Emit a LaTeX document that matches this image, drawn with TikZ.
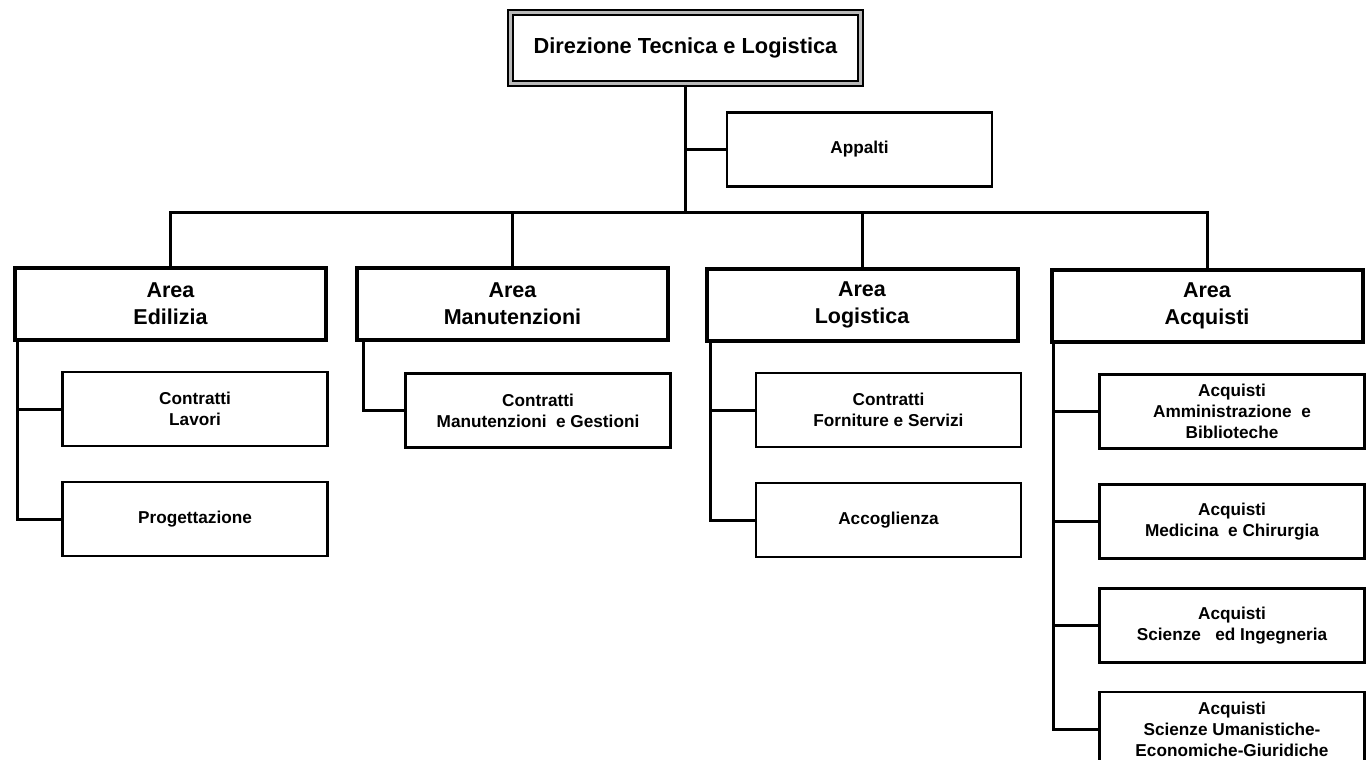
\documentclass[tikz,border=0pt]{standalone}
\usepackage{fontspec}
\setmainfont{Liberation Sans}
\begin{document}
\begin{tikzpicture}[x=1pt,y=1pt,
  topbox/.style={draw=black, line width=2.4pt, double=gray!55, double distance=2.4pt,
    minimum width=350pt, minimum height=71pt, inner sep=0pt,
    font=\fontsize{21.8}{26}\selectfont\bfseries},
  areabox/.style={draw=black, line width=4pt, minimum width=311pt, minimum height=72pt,
    inner sep=0pt, align=center, font=\fontsize{21.5}{27}\selectfont\bfseries},
  subbox/.style={draw=black, line width=2.3pt, minimum width=265pt, minimum height=74pt,
    inner sep=0pt, align=center, font=\fontsize{17.2}{21}\selectfont\bfseries},
  link/.style={draw=black, line width=3pt}]
\useasboundingbox (0,0) rectangle (1369,-760);
% top
\node[topbox] (top) at (685.5,-48) {Direzione Tecnica e Logistica};
\node[subbox] (ap) at (859.5,-149.5) {Appalti};
% areas
\node[areabox] (ed) at (170.5,-304) {Area\\Edilizia};
\node[areabox] (ma) at (512.5,-304) {Area\\Manutenzioni};
\node[areabox] (lo) at (862,-305) {Area\\Logistica};
\node[areabox] (aq) at (1207,-305.5) {Area\\Acquisti};
% sub boxes
\node[subbox] (ed1) at (195,-409) {Contratti\\Lavori};
\node[subbox] (ed2) at (195,-519) {Progettazione};
\node[subbox] (ma1) at (538,-410.5) {Contratti\\Manutenzioni\ \ e Gestioni};
\node[subbox] (lo1) at (888.5,-410) {Contratti\\Forniture e Servizi};
\node[subbox] (lo2) at (888.5,-520) {Accoglienza};
\node[subbox] (aq1) at (1232,-411.5) {Acquisti\\Amministrazione\ \ e\\Biblioteche};
\node[subbox] (aq2) at (1232,-521.5) {Acquisti\\Medicina\ \ e Chirurgia};
\node[subbox] (aq3) at (1232,-625.5) {Acquisti\\Scienze\ \ \ ed Ingegneria};
\node[subbox] (aq4) at (1232,-729) {Acquisti\\Scienze Umanistiche-\\Economiche-Giuridiche};
% bus
\coordinate (bus) at (686,-212);
\draw[link] (ed.north) |- (bus) -| (aq.north);
\draw[link] (ma.north) -- (ma.north |- bus);
\draw[link] (lo.north) -- (lo.north |- bus);
\draw[link] (top.south) -- ([yshift=-1.5pt]top.south |- bus);
\draw[link] (top.south |- ap.west) -- (ap.west);
% branches
\coordinate (eb) at ([xshift=4pt]ed.south west);
\coordinate (mb) at ([xshift=8.5pt]ma.south west);
\coordinate (lb) at ([xshift=6pt]lo.south west);
\coordinate (ab) at ([xshift=4pt]aq.south west);
\draw[link] (eb) |- (ed2.west);
\draw[link] (eb |- ed1.west) -- (ed1.west);
\draw[link] (mb) |- (ma1.west);
\draw[link] (lb) |- (lo2.west);
\draw[link] (lb |- lo1.west) -- (lo1.west);
\draw[link] (ab) |- (aq4.west);
\draw[link] (ab |- aq1.west) -- (aq1.west);
\draw[link] (ab |- aq2.west) -- (aq2.west);
\draw[link] (ab |- aq3.west) -- (aq3.west);
\end{tikzpicture}
\end{document}
